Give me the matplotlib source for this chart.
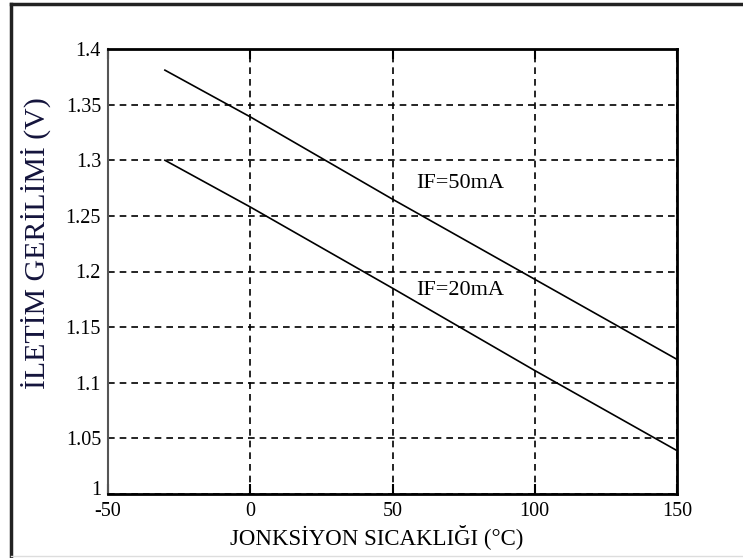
import matplotlib
matplotlib.use("Agg")
import matplotlib.pyplot as plt
import matplotlib.transforms as mtransforms
from matplotlib.lines import Line2D

plt.rcParams['font.family'] = ['Liberation Serif', 'DejaVu Serif']
plt.rcParams['axes.unicode_minus'] = False

# values
temp = [-30, 0, 50, 100, 150]
vf_50ma = [1.381, 1.339, 1.265, 1.193, 1.121]
vf_20ma = [1.300, 1.258, 1.185, 1.111, 1.039]
xticks = [-50, 0, 50, 100, 150]
yticks = [1.0, 1.05, 1.1, 1.15, 1.2, 1.25, 1.3, 1.35, 1.4]
ytick_labels = ['1', '1.05', '1.1', '1.15', '1.2', '1.25', '1.3', '1.35', '1.4']

W, H = 743, 558
fig = plt.figure(figsize=(W / 100, H / 100), dpi=100)
ax = fig.add_axes([108 / W, 1 - 494 / H, 569 / W, 445 / H])

# page frame: thick top and left edges, faint bottom edge
fig.lines.append(Line2D([11 / W, 1], [1 - 4 / H, 1 - 4 / H], transform=fig.transFigure,
                        color='#222222', linewidth=2.5))
fig.lines.append(Line2D([11 / W, 11 / W], [0, 1 - 4 / H], transform=fig.transFigure,
                        color='#222222', linewidth=2.5))
fig.lines.append(Line2D([11 / W, 1], [2 / H, 2 / H], transform=fig.transFigure,
                        color='#dddddd', linewidth=1))

ax.plot(temp, vf_50ma, color='black', linewidth=1.2)
ax.plot(temp, vf_20ma, color='black', linewidth=1.2)

ax.text(58.5, 1.279, 'IF=50mA', fontsize=16, va='center')
ax.text(58.5, 1.183, 'IF=20mA', fontsize=16, va='center')

ax.set_xlim(-50, 150)
ax.set_ylim(1.0, 1.4)
ax.set_xticks(xticks)
ax.set_yticks(yticks)
ax.set_yticklabels(ytick_labels)
ax.tick_params(direction='in', length=7, width=1.5, labelsize=14.5,
               top=True, right=False, color='black')
ax.yaxis.set_tick_params(length=0, pad=5)
ax.xaxis.set_tick_params(pad=6)

# the "1" label sits a little above the corner, like in the original
lbl = ax.get_yticklabels()[0]
lbl.set_transform(lbl.get_transform() +
                  mtransforms.ScaledTranslation(0, 4 / 72, fig.dpi_scale_trans))

ax.grid(True, color='black', linestyle=(0, (4, 3)), linewidth=1.2)

for side in ['top', 'bottom', 'right']:
    ax.spines[side].set_linewidth(2)
ax.spines['left'].set_linewidth(1.5)
ax.spines['left'].set_color('#555555')

ax.set_xlabel('JONKSİYON SICAKLIĞI (°C)', fontsize=16.5)
ax.xaxis.set_label_coords(0.473, -0.068)
ax.set_ylabel('İLETİM GERİLİMİ (V)', fontsize=21.5, color='#14143c')
ax.yaxis.set_label_coords(-0.1, 0.564)

plt.savefig('out.png', dpi=100)
plt.close(fig)
